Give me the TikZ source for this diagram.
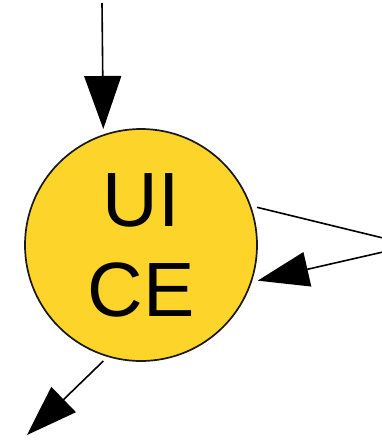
\documentclass[tikz,border=0pt]{standalone}
\usepackage{fontspec}
\setmainfont{Liberation Sans}
\usetikzlibrary{arrows.meta}
\definecolor{ceyellow}{HTML}{FDD42A}
\begin{document}
\begin{tikzpicture}[x=1pt,y=-1pt,
  conn/.style={line width=1.6pt,-{Triangle[length=51pt,width=35pt]}},
  bigconn/.style={line width=1.6pt,-{Triangle[length=53pt,width=37pt]}},
  plain/.style={line width=1.6pt},
  entity/.style={circle,draw=black!90,line width=1.7pt,fill=ceyellow,
    minimum size=232pt,inner sep=0pt,outer sep=6pt,align=center,
    font=\fontsize{77}{90}\selectfont}]
\useasboundingbox (0,0) rectangle (381,441);
\node[entity] (ce) at (141,245) {UI\\CE};
\coordinate (topin) at (102,3);
\coordinate (rightout) at (383,238);
\coordinate (rightin) at (383,252);
\coordinate (blout) at (27,435);
\draw[bigconn] (topin) -- (ce.108.9);
\draw[plain] (ce.18.6) -- (rightout);
\draw[conn] (rightin) -- (ce.-17.1);
\draw[conn] (ce.-108.6) -- (blout);
\end{tikzpicture}
\end{document}
